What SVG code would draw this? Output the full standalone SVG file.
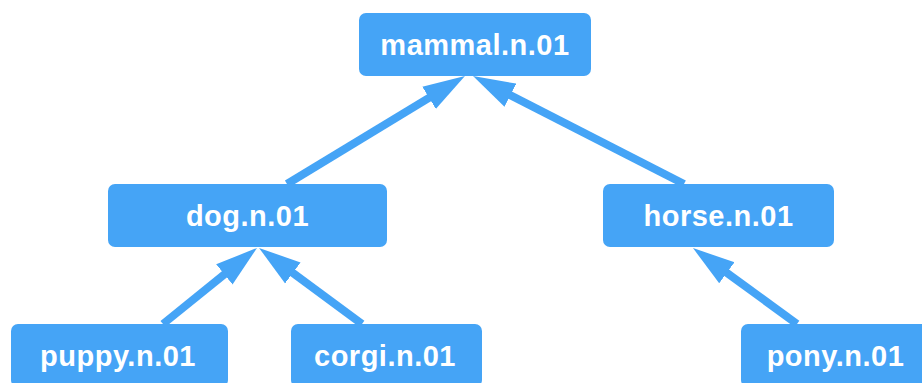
<svg xmlns="http://www.w3.org/2000/svg" width="922" height="383" viewBox="0 0 922 383">
  <style>
    .box { fill: #45a4f6; }
    .label { fill: #ffffff; font-family: "Liberation Sans", Arial, Helvetica, sans-serif; font-weight: bold; font-size: 29px; letter-spacing: 0.5px; text-anchor: middle; }
    .edge { stroke: #45a4f6; stroke-width: 8; fill: none; marker-end: url(#arrow); }
  </style>
  <defs>
    <marker id="arrow" markerUnits="userSpaceOnUse" markerWidth="44" markerHeight="28" viewBox="0 -14 44 28" refX="10" refY="0" orient="auto">
      <path d="M0,-13 L42,0 L0,13 Z" fill="#45a4f6"/>
    </marker>
  </defs>

  <!-- hypernym links: child top to parent bottom -->
  <g id="edges">
    <line class="edge" x1="287" y1="184" x2="437.6" y2="92.6"/>
    <line class="edge" x1="684" y1="184" x2="501.5" y2="90.6"/>
    <line class="edge" x1="163" y1="324" x2="232.1" y2="268.1"/>
    <line class="edge" x1="362" y1="324" x2="284.8" y2="267"/>
    <line class="edge" x1="797" y1="324" x2="718.8" y2="266.9"/>
  </g>

  <g id="mammal">
    <rect class="box" x="359" y="13" width="232" height="63" rx="7"/>
    <text class="label" x="475" y="55">mammal.n.01</text>
  </g>
  <g id="dog">
    <rect class="box" x="108" y="184" width="279" height="63" rx="7"/>
    <text class="label" x="247.5" y="226">dog.n.01</text>
  </g>
  <g id="horse">
    <rect class="box" x="603" y="184" width="231" height="63" rx="7"/>
    <text class="label" x="718.5" y="226">horse.n.01</text>
  </g>
  <g id="puppy">
    <rect class="box" x="11" y="324" width="217" height="63" rx="7"/>
    <text class="label" x="118" y="366">puppy.n.01</text>
  </g>
  <g id="corgi">
    <rect class="box" x="291" y="324" width="191" height="63" rx="7"/>
    <text class="label" x="385" y="366">corgi.n.01</text>
  </g>
  <g id="pony">
    <rect class="box" x="741" y="324" width="189" height="63" rx="7"/>
    <text class="label" x="835.5" y="366">pony.n.01</text>
  </g>
</svg>
